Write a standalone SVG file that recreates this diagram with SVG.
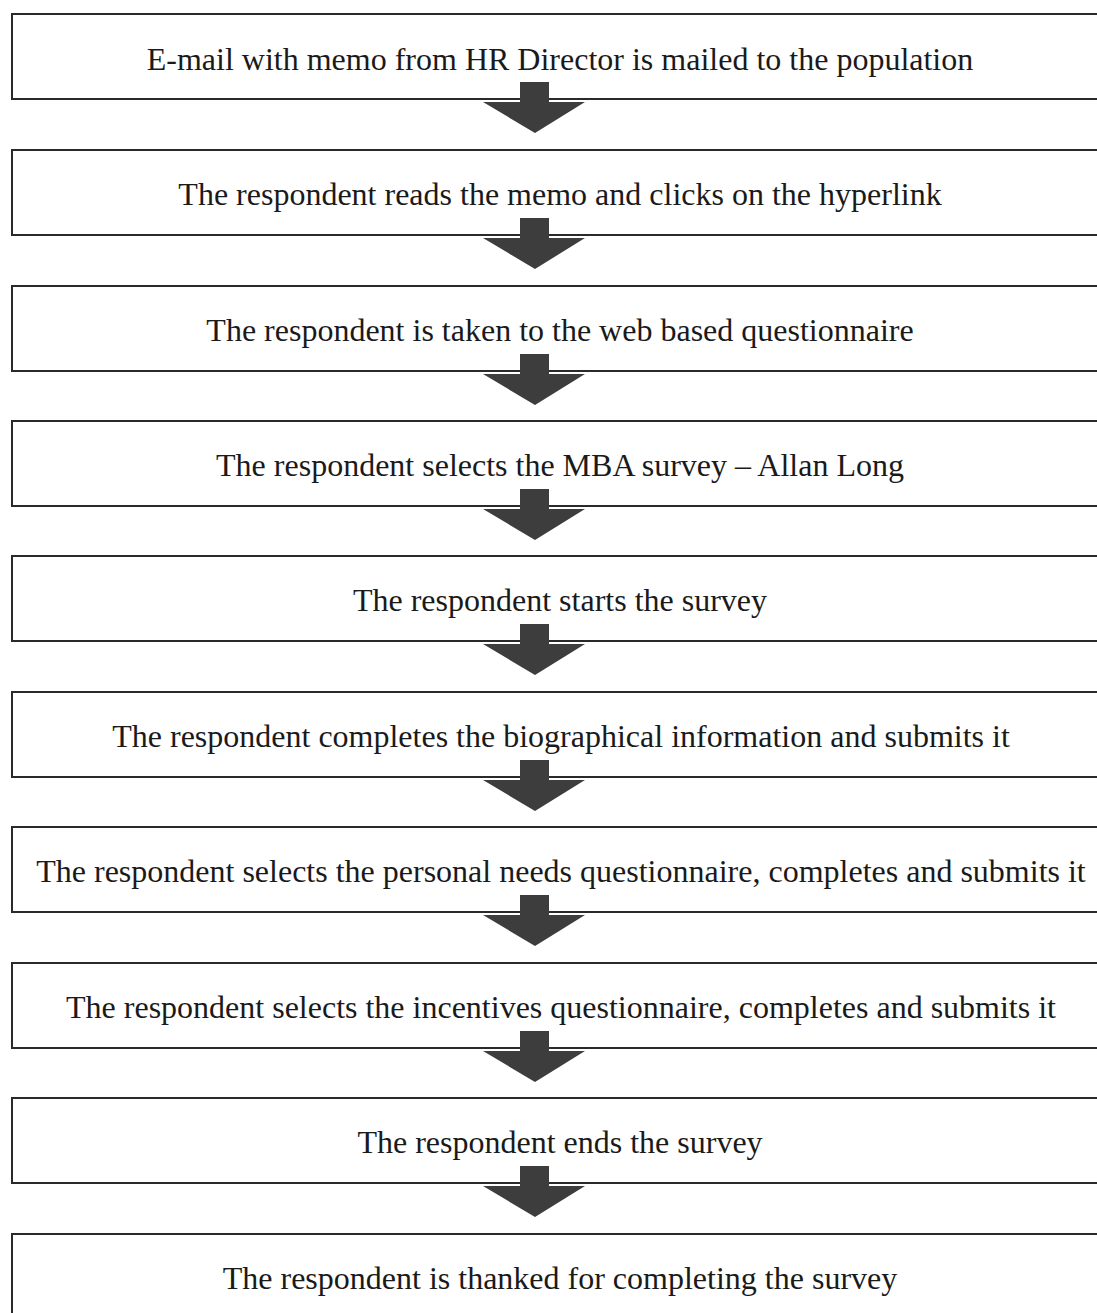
<svg xmlns="http://www.w3.org/2000/svg" width="1097" height="1313" viewBox="0 0 1097 1313">
<style>
.box{fill:#fff;stroke:#2a2a2a;stroke-width:2}
.t{font-family:"Liberation Serif","Times New Roman",serif;font-size:32px;fill:#1a1a1a;text-anchor:middle}
.arr{fill:#3d3d3d}
</style>
<defs>
<path id="arrow" class="arr" d="M520,0 H549 V20 H585 L535,51 L483,20 H520 Z"/>
</defs>
<rect width="1097" height="1313" fill="#fff"/>
<g id="n1"><rect class="box" x="12" y="14" width="1100" height="85"/><text class="t" x="560" y="70">E-mail with memo from HR Director is mailed to the population</text></g>
<g id="n2"><rect class="box" x="12" y="150" width="1100" height="85"/><text class="t" x="560" y="205">The respondent reads the memo and clicks on the hyperlink</text></g>
<g id="n3"><rect class="box" x="12" y="286" width="1100" height="85"/><text class="t" x="560" y="341">The respondent is taken to the web based questionnaire</text></g>
<g id="n4"><rect class="box" x="12" y="421" width="1100" height="85"/><text class="t" x="560" y="476">The respondent selects the MBA survey – Allan Long</text></g>
<g id="n5"><rect class="box" x="12" y="556" width="1100" height="85"/><text class="t" x="560" y="611">The respondent starts the survey</text></g>
<g id="n6"><rect class="box" x="12" y="692" width="1100" height="85"/><text class="t" x="561" y="747">The respondent completes the biographical information and submits it</text></g>
<g id="n7"><rect class="box" x="12" y="827" width="1100" height="85"/><text class="t" x="561" y="882">The respondent selects the personal needs questionnaire, completes and submits it</text></g>
<g id="n8"><rect class="box" x="12" y="963" width="1100" height="85"/><text class="t" x="561" y="1018">The respondent selects the incentives questionnaire, completes and submits it</text></g>
<g id="n9"><rect class="box" x="12" y="1098" width="1100" height="85"/><text class="t" x="560" y="1153">The respondent ends the survey</text></g>
<g id="n10"><rect class="box" x="12" y="1234" width="1100" height="100"/><text class="t" x="560" y="1289">The respondent is thanked for completing the survey</text></g>
<g id="connectors">
<use href="#arrow" y="82"/>
<use href="#arrow" y="218"/>
<use href="#arrow" y="354"/>
<use href="#arrow" y="489"/>
<use href="#arrow" y="624"/>
<use href="#arrow" y="760"/>
<use href="#arrow" y="895"/>
<use href="#arrow" y="1031"/>
<use href="#arrow" y="1166"/>
</g>
</svg>
